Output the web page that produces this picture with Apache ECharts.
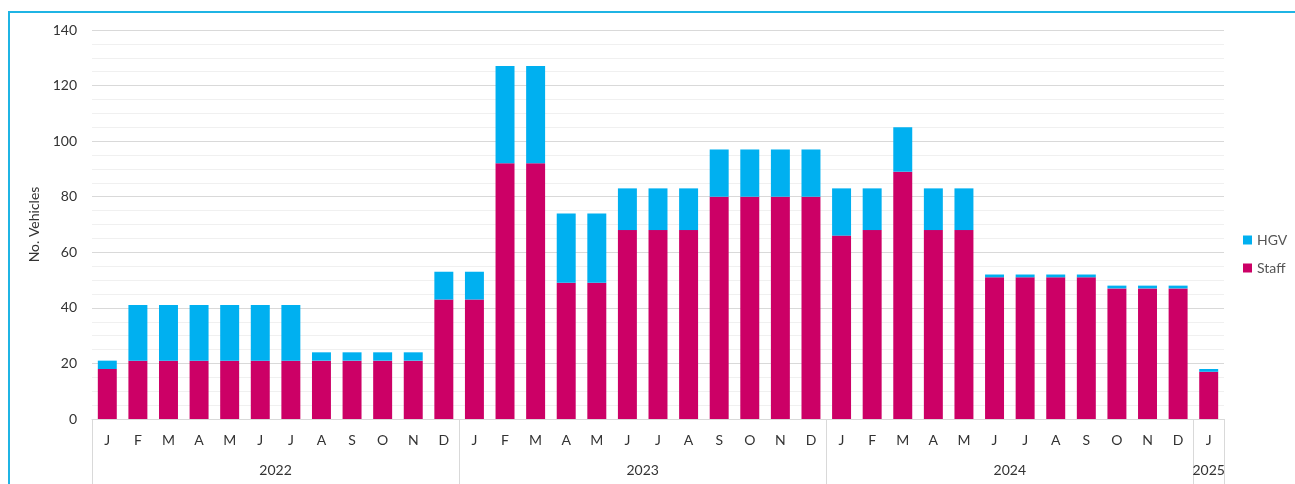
<!DOCTYPE html>
<html>
<head>
<meta charset="utf-8">
<script src="https://cdn.jsdelivr.net/npm/echarts@6/dist/echarts.min.js"></script>
<style>
  html, body { margin: 0; padding: 0; background: #fff; overflow: hidden; }
  #frame {
    position: absolute; left: 8px; top: 11px; width: 1300px; height: 500px;
    border: 2px solid #1fb4e4; box-sizing: border-box;
  }
  #chart { position: absolute; left: 0; top: 0; width: 1295px; height: 484px; }
</style>
</head>
<body>
<div id="frame"></div>
<div id="chart"></div>
<script>
// month labels (J F M ... ) for Jan 2022 - Jan 2025
const months = [
  'J','F','M','A','M','J','J','A','S','O','N','D',
  'J','F','M','A','M','J','J','A','S','O','N','D',
  'J','F','M','A','M','J','J','A','S','O','N','D',
  'J'
]
const years = ['2022', '2023', '2024', '2025']
const monthsPerYear = [12, 12, 12, 1]

const staff = [
  18, 21, 21, 21, 21, 21, 21, 21, 21, 21, 21, 43,
  43, 92, 92, 49, 49, 68, 68, 68, 80, 80, 80, 80,
  66, 68, 89, 68, 68, 51, 51, 51, 51, 47, 47, 47,
  17
]
const hgv = [
  3, 20, 20, 20, 20, 20, 20, 3, 3, 3, 3, 10,
  10, 35, 35, 25, 25, 15, 15, 15, 17, 17, 17, 17,
  17, 15, 16, 15, 15, 1, 1, 1, 1, 1, 1, 1,
  1
]

// year group boundaries and centres, in month units
const yearEdges = [0]
const yearCentres = []
monthsPerYear.forEach(n => {
  const start = yearEdges[yearEdges.length - 1]
  yearCentres.push(start + n / 2)
  yearEdges.push(start + n)
})

const font = 'Lato, "Open Sans", sans-serif'
const chart = echarts.init(document.getElementById('chart'))

chart.setOption({
  animation: false,
  textStyle: { fontFamily: font },
  grid: { left: 92, right: 71, top: 30, bottom: 65 },
  legend: {
    orient: 'vertical',
    left: 1238,
    top: 228,
    itemWidth: 9,
    itemHeight: 9,
    itemGap: 14,
    icon: 'rect',
    data: ['HGV', 'Staff'],
    textStyle: { fontSize: 14, color: '#555', fontFamily: font }
  },
  xAxis: [
    {
      type: 'category',
      data: months,
      axisLine: { lineStyle: { color: '#d9d9d9' } },
      axisTick: { show: false },
      axisLabel: { interval: 0, fontSize: 14, color: '#333', margin: 14 }
    },
    {
      type: 'value',
      min: 0,
      max: months.length,
      position: 'bottom',
      splitLine: { show: false },
      axisLine: { show: false },
      axisTick: {
        show: true,
        inside: false,
        length: 66,
        customValues: yearEdges,
        lineStyle: { color: '#d9d9d9' }
      },
      axisLabel: {
        customValues: yearCentres,
        fontSize: 14,
        color: '#333',
        margin: 44,
        formatter: v => {
          const i = yearCentres.findIndex(c => Math.abs(c - v) < 0.01)
          return i >= 0 ? years[i] : ''
        }
      }
    }
  ],
  yAxis: {
    type: 'value',
    min: 0,
    max: 140,
    interval: 20,
    name: 'No. Vehicles',
    nameLocation: 'middle',
    nameGap: 40,
    nameTextStyle: { fontSize: 14, color: '#333', fontFamily: font },
    axisLine: { show: false },
    axisTick: { show: false },
    axisLabel: { fontSize: 14, color: '#333', margin: 15 },
    splitLine: { lineStyle: { color: '#d9d9d9' } },
    minorTick: { show: false, splitNumber: 4 },
    minorSplitLine: { show: true, lineStyle: { color: '#f0f0f0' } }
  },
  series: [
    {
      name: 'Staff',
      type: 'bar',
      stack: 'total',
      data: staff,
      barCategoryGap: '38%',
      itemStyle: { color: '#cc0066' }
    },
    {
      name: 'HGV',
      type: 'bar',
      stack: 'total',
      data: hgv,
      barCategoryGap: '38%',
      itemStyle: { color: '#00b0f0' }
    }
  ]
})
</script>
</body>
</html>
